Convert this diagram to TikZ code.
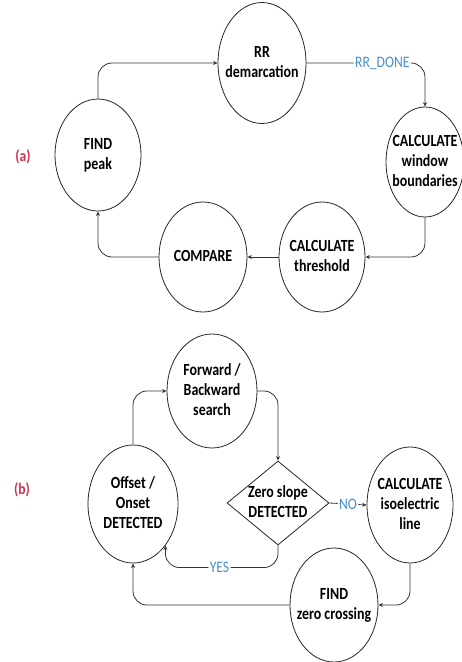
\documentclass[tikz,border=0pt]{standalone}
\usepackage{fontspec}
\setmainfont{Carlito}
\usetikzlibrary{shapes.geometric,arrows.meta}
\definecolor{lblred}{HTML}{D0314A}
\definecolor{lblblue}{HTML}{4A8FC8}
\newcommand\txt[1]{\scalebox{0.82}[1]{\begin{tabular}{@{}c@{}}#1\end{tabular}}}
\newcommand\stx[1]{\scalebox{0.85}[1]{#1}}
\tikzset{
  state/.style={draw=black!85, line width=0.8pt, ellipse, inner xsep=-16pt, inner ysep=-8pt,
    font=\fontsize{17}{20}\selectfont\bfseries, fill=white},
  decide/.style={draw=black!85, line width=0.8pt, diamond, inner sep=-14pt,
    font=\fontsize{17}{20}\selectfont\bfseries, fill=white},
  arr/.style={draw=black!80, line width=0.8pt, -{Stealth[length=4.5pt,width=4pt]}, rounded corners=14pt},
  edgelbl/.style={fill=white, text=lblblue, inner sep=1.5pt, font=\fontsize{16}{18}\selectfont},
  partlbl/.style={text=lblred, font=\fontsize{16}{18}\selectfont\bfseries}
}
\begin{document}
\begin{tikzpicture}[x=1pt,y=-1pt]
\useasboundingbox (0,0) rectangle (462,662);
% (a)
\node[partlbl] (la) at (23,157) {\stx{(a)}};
\node[state, minimum width=88pt, minimum height=121pt] (rr) at (262,63) {\txt{RR\\demarcation}};
\node[state, minimum width=86pt, minimum height=112pt] (fp) at (98,155) {\txt{FIND\\peak}};
\node[state, minimum width=78pt, minimum height=110pt] (win) at (425,162) {\txt{CALCULATE\\window\\boundaries}};
\node[state, minimum width=86pt, minimum height=110pt] (thr) at (322,257) {\txt{CALCULATE\\threshold}};
\node[state, minimum width=88pt, minimum height=110pt] (cmp) at (203,257) {\txt{COMPARE}};
\draw[arr] (fp.north) |- (rr.west);
\draw[arr] (rr.east) -| node[edgelbl, pos=0.32] {\stx{RR\_DONE}} (win.north);
\draw[arr] (win.south) |- (thr.east);
\draw[arr] (thr.west) -- (cmp.east);
\draw[arr] (cmp.west) -| (fp.south);
% (b)
\node[partlbl] (lb) at (22,490) {\stx{(b)}};
\node[state, minimum width=90pt, minimum height=114pt] (fb) at (212,391) {\txt{Forward /\\Backward\\search}};
\node[state, minimum width=90pt, minimum height=118pt] (off) at (133,504) {\txt{Offset /\\Onset\\DETECTED}};
\node[decide, minimum width=102pt, minimum height=84pt] (dia) at (278,503) {\txt{Zero slope\\DETECTED}};
\node[state, minimum width=86pt, minimum height=116pt] (cal) at (410,505) {\txt{CALCULATE\\isoelectric\\line}};
\node[state, minimum width=88pt, minimum height=114pt] (fz) at (334,605) {\txt{FIND\\zero crossing}};
\draw[arr] (off.north) |- (fb.west);
\draw[arr] (fb.east) -| (dia.north);
\draw[arr] (dia.east) -- node[edgelbl] {\stx{NO}} (cal.west);
\draw[arr] (dia.south) |- node[edgelbl, pos=0.76] {\stx{YES}} ([yshift=-22pt]off.-52) -- (off.-52);
\draw[arr] (cal.south) |- (fz.east);
\draw[arr] (fz.west) -| (off.south);
\end{tikzpicture}
\end{document}
